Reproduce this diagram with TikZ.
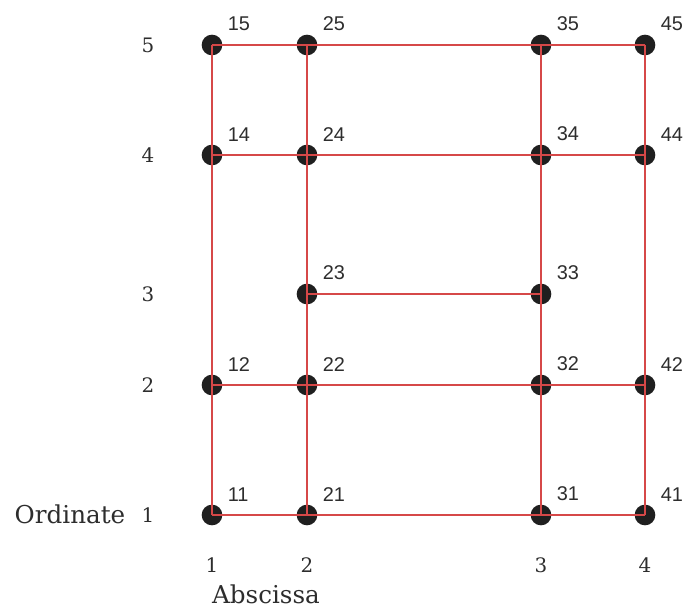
\documentclass[tikz,border=0pt]{standalone}
\usepackage{fontspec}
\newfontfamily\labelfont{Liberation Sans}
\newfontfamily\axisfont{DejaVu Serif}
\usetikzlibrary{positioning}
\definecolor{gridred}{RGB}{214,72,72}
\definecolor{labelgray}{RGB}{45,45,45}

\begin{document}
\begin{tikzpicture}[x=0.03cm, y=-0.03cm,
  vertex/.style={circle, fill=black!88, inner sep=0pt, minimum size=0.62cm,
    label={[vlabel]40:#1}},
  vlabel/.style={font=\labelfont\fontsize{17}{19}\selectfont, text=labelgray, label distance=0.14cm},
  axisnum/.style={font=\axisfont\fontsize{17}{19}\selectfont, text=labelgray},
  axistitle/.style={font=\axisfont\fontsize{21}{24}\selectfont, text=labelgray, inner sep=1pt},
  edge/.style={draw=gridred, line width=1.3pt}
]
\useasboundingbox (0,0) rectangle (690,610);

% Vertices (column x, row y)
\foreach \c/\cx in {1/212, 2/307, 3/541, 4/645}
  \foreach \r/\ry in {1/515, 2/385, 3/294, 4/155, 5/45} {
    \pgfmathtruncatemacro{\hole}{(\r==3 && (\c==1 || \c==4)) ? 1 : 0}
    \ifnum\hole=0
      \node[vertex=\c\r] (n\c\r) at (\cx,\ry) {};
    \fi
  }

% Horizontal edges
\draw[edge] (n15.center) -- (n25.center) -- (n35.center) -- (n45.center);
\draw[edge] (n14.center) -- (n24.center) -- (n34.center) -- (n44.center);
\draw[edge] (n23.center) -- (n33.center);
\draw[edge] (n12.center) -- (n22.center) -- (n32.center) -- (n42.center);
\draw[edge] (n11.center) -- (n21.center) -- (n31.center) -- (n41.center);

% Vertical edges
\draw[edge] (n11.center) -- (n12.center) -- (n14.center) -- (n15.center);
\draw[edge] (n21.center) -- (n22.center) -- (n23.center) -- (n24.center) -- (n25.center);
\draw[edge] (n31.center) -- (n32.center) -- (n33.center) -- (n34.center) -- (n35.center);
\draw[edge] (n41.center) -- (n42.center) -- (n44.center) -- (n45.center);

% Ordinate numbers
\foreach \r/\ry in {1/515, 2/385, 3/294, 4/155, 5/45}
  \node[axisnum] (o\r) at (148,\ry) {\r};

% Abscissa numbers
\foreach \c/\cx in {1/212, 2/307, 3/541, 4/645}
  \node[axisnum] (a\c) at (\cx,565) {\c};

% Axis titles
\node[axistitle] (ordinate) at (70,514) {Ordinate};
\node[axistitle] (abscissa) at (266,594) {Abscissa};
\end{tikzpicture}
\end{document}
